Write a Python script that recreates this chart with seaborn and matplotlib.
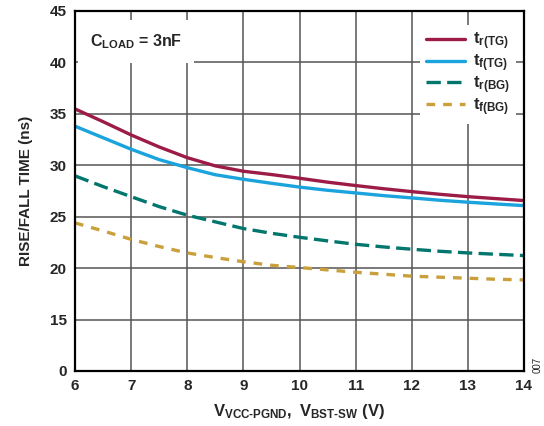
import numpy as np
import pandas as pd
import matplotlib
matplotlib.use("Agg")
import matplotlib.pyplot as plt
import seaborn as sns

sns.set_style("white")
plt.rcParams['font.family'] = ['Liberation Sans', 'DejaVu Sans']
plt.rcParams['font.weight'] = 'bold'
plt.rcParams['mathtext.fontset'] = 'custom'
plt.rcParams['mathtext.rm'] = 'Liberation Sans:bold'
plt.rcParams['mathtext.it'] = 'Liberation Sans:bold'
plt.rcParams['mathtext.bf'] = 'Liberation Sans:bold'

voltage = [6, 6.5, 7, 7.5, 8, 8.5, 9, 9.5, 10, 10.5, 11, 11.5, 12, 12.5, 13, 13.5, 14]
tr_tg = [35.48, 34.24, 32.95, 31.78, 30.74, 29.94, 29.42, 29.1, 28.74, 28.36, 28.03, 27.72,
         27.44, 27.18, 26.95, 26.76, 26.57]
tf_tg = [33.8, 32.68, 31.56, 30.55, 29.77, 29.08, 28.64, 28.25, 27.88, 27.57, 27.31, 27.05,
         26.83, 26.6, 26.41, 26.24, 26.08]
tr_bg = [28.97, 27.93, 26.95, 25.98, 25.15, 24.5, 23.85, 23.39, 23.0, 22.65, 22.32, 22.06,
         21.84, 21.64, 21.48, 21.35, 21.22]
tf_bg = [24.4, 23.62, 22.8, 22.1, 21.48, 21.03, 20.62, 20.28, 20.06, 19.83, 19.6, 19.41,
         19.22, 19.12, 19.02, 18.92, 18.86]
series_labels = [r'$\mathrm{t}_{\mathrm{r(TG)}}$', r'$\mathrm{t}_{\mathrm{f(TG)}}$',
                 r'$\mathrm{t}_{\mathrm{r(BG)}}$', r'$\mathrm{t}_{\mathrm{f(BG)}}$']
y_ticks = [10, 15, 20, 25, 30, 35, 40, 45]
y_ticklabels = ['0', '15', '20', '25', '30', '35', '40', '45']
x_ticks = [6, 7, 8, 9, 10, 11, 12, 13, 14]

colors = ['#9C1C46', '#1AA3DC', '#00766C', '#C9A03C']
styles = ['-', '-', (0, (4.3, 1.9)), (0, (2.6, 2.4))]

fig = plt.figure(figsize=(5.44, 4.26), dpi=100)
ax = fig.add_axes([75/544, 1 - 371/426, (524-75)/544, (371-11)/426])

for vals, lab, c, ls in zip([tr_tg, tf_tg, tr_bg, tf_bg], series_labels, colors, styles):
    df = pd.DataFrame({'x': voltage, 'y': vals})
    sns.lineplot(data=df, x='x', y='y', ax=ax, color=c, linewidth=2.4, label=lab,
                 linestyle=ls, zorder=3)

ax.set_xlim(6, 14)
ax.set_ylim(10, 45)
ax.set_xticks(x_ticks)
ax.set_xticklabels([str(v) for v in x_ticks], fontsize=11, fontweight='bold')
ax.set_yticks(y_ticks)
ax.set_yticklabels(y_ticklabels, fontsize=11, fontweight='bold')
ax.grid(True, color='#555555', linewidth=1.1)
ax.set_axisbelow(True)
ax.tick_params(length=0, pad=6)
for s in ax.spines.values():
    s.set_color('black')
    s.set_linewidth(1.6)
    s.set_zorder(5)

ax.set_xlabel(r'$\mathrm{V}_{\mathrm{VCC\text{-}PGND}}\mathrm{,\ V}_{\mathrm{BST\text{-}SW}}\mathrm{\ (V)}$',
              fontsize=12, labelpad=6)
ax.set_ylabel('RISE/FALL TIME (ns)', fontsize=11, fontweight='bold', labelpad=12)

ax.text(0.033, 0.915, r'$\mathrm{C}_{\mathrm{LOAD}}$' + ' = 3nF', transform=ax.transAxes,
        fontsize=11.5, fontweight='bold', va='center', ha='left', zorder=4,
        bbox=dict(facecolor='white', edgecolor='none', boxstyle='square,pad=0.75'))

leg = ax.legend(loc='upper right', bbox_to_anchor=(1.0, 0.985), frameon=True, fontsize=12,
                handlelength=2.3, handletextpad=0.5, labelspacing=0.02, borderpad=0.35,
                fancybox=False)
leg.get_frame().set_edgecolor('none')
leg.get_frame().set_facecolor('white')
leg.get_frame().set_alpha(1)
leg.set_zorder(6)

fig.text(538/544, 1 - 365/426, '007', rotation=90, fontsize=7, fontweight='normal',
         ha='center', va='center')

fig.savefig('out.png', dpi=100)
